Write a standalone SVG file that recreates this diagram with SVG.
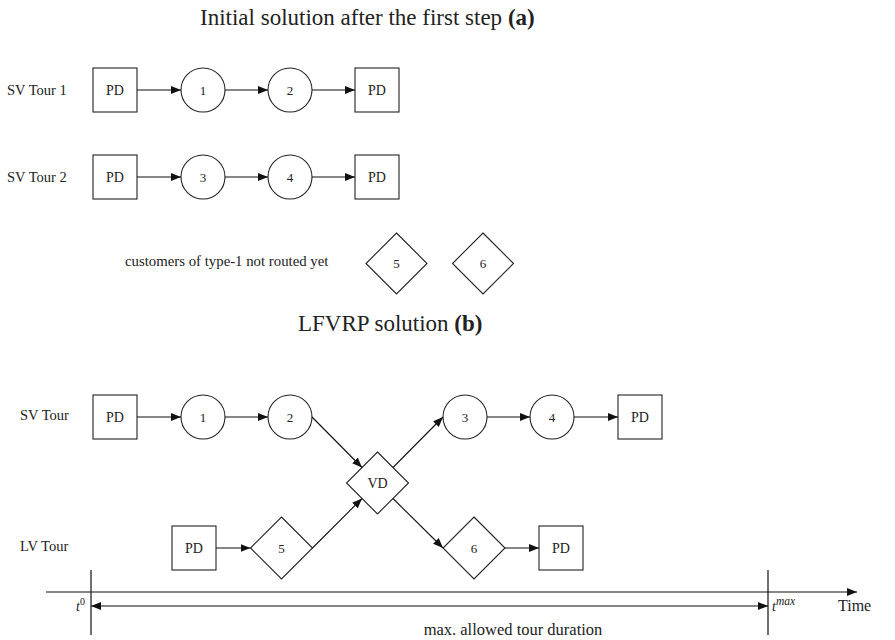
<svg xmlns="http://www.w3.org/2000/svg" width="895" height="640" viewBox="0 0 895 640">
<style>
text{font-family:"Liberation Serif","DejaVu Serif",serif;fill:#222}
.t{font-size:23px}
.l{font-size:14.5px}
.n{font-size:14px;text-anchor:middle;dominant-baseline:central}
.d{font-size:13px}
.s{fill:#fff;stroke:#222;stroke-width:1.1}
.e{stroke:#111;stroke-width:1.1;fill:none;marker-end:url(#ah)}
.a{stroke:#111;stroke-width:1.2;fill:none}
</style>
<defs>
<marker id="ah" viewBox="0 0 10 8" refX="10" refY="4" markerWidth="10" markerHeight="8" markerUnits="userSpaceOnUse" orient="auto-start-reverse">
<path d="M0,0 L10,4 L0,8 Z" fill="#111"/>
</marker>
</defs>
<rect width="895" height="640" fill="#fff"/>
<text class="t" x="200" y="25">Initial solution after the first step <tspan font-weight="bold">(a)</tspan></text>
<text class="l" x="7" y="95">SV Tour 1</text>
<text class="l" x="7" y="182">SV Tour 2</text>
<text class="l" x="125" y="266" style="font-size:14.8px">customers of type-1 not routed yet</text>
<g id="a_pd1"><rect class="s" x="93" y="68" width="44" height="44"/><text class="n" x="115" y="90">PD</text></g>
<g id="a_n1"><circle class="s" cx="203" cy="90" r="22"/><text class="n d" x="203" y="90">1</text></g>
<g id="a_n2"><circle class="s" cx="290" cy="90" r="22"/><text class="n d" x="290" y="90">2</text></g>
<g id="a_pd2"><rect class="s" x="355" y="68" width="44" height="44"/><text class="n" x="377" y="90">PD</text></g>
<g id="a_pd3"><rect class="s" x="93" y="155" width="44" height="44"/><text class="n" x="115" y="177">PD</text></g>
<g id="a_n3"><circle class="s" cx="203" cy="177" r="22"/><text class="n d" x="203" y="177">3</text></g>
<g id="a_n4"><circle class="s" cx="290" cy="177" r="22"/><text class="n d" x="290" y="177">4</text></g>
<g id="a_pd4"><rect class="s" x="355" y="155" width="44" height="44"/><text class="n" x="377" y="177">PD</text></g>
<g id="a_n5"><path class="s" d="M396.5,233 L427,263.5 L396.5,294 L366,263.5 Z"/><text class="n d" x="396.5" y="263.5">5</text></g>
<g id="a_n6"><path class="s" d="M483,233 L513.5,263.5 L483,294 L452.5,263.5 Z"/><text class="n d" x="483" y="263.5">6</text></g>

<text class="t" x="298" y="331">LFVRP solution <tspan font-weight="bold">(b)</tspan></text>
<text class="l" x="20" y="420">SV Tour</text>
<text class="l" x="20" y="551">LV Tour</text>
<g id="b_pd1"><rect class="s" x="93" y="395" width="44" height="44"/><text class="n" x="115" y="417">PD</text></g>
<g id="b_n1"><circle class="s" cx="203" cy="417" r="22"/><text class="n d" x="203" y="417">1</text></g>
<g id="b_n2"><circle class="s" cx="290" cy="417" r="22"/><text class="n d" x="290" y="417">2</text></g>
<g id="b_vd"><path class="s" d="M377.5,452 L408.5,483 L377.5,514 L346.5,483 Z"/><text class="n" x="377.5" y="483">VD</text></g>
<g id="b_n3"><circle class="s" cx="465" cy="417" r="22"/><text class="n d" x="465" y="417">3</text></g>
<g id="b_n4"><circle class="s" cx="552" cy="417" r="22"/><text class="n d" x="552" y="417">4</text></g>
<g id="b_pd2"><rect class="s" x="618" y="395" width="44" height="44"/><text class="n" x="640" y="417">PD</text></g>
<g id="b_pd3"><rect class="s" x="172" y="526" width="44" height="44"/><text class="n" x="194" y="548">PD</text></g>
<g id="b_n5"><path class="s" d="M281.5,517 L312.5,548 L281.5,579 L250.5,548 Z"/><text class="n d" x="281.5" y="548">5</text></g>
<g id="b_n6"><path class="s" d="M474,517 L505,548 L474,579 L443,548 Z"/><text class="n d" x="474" y="548">6</text></g>
<g id="b_pd4"><rect class="s" x="539" y="526" width="44" height="44"/><text class="n" x="561" y="548">PD</text></g>

<g id="connectors">
<line class="e" x1="137" y1="90" x2="181" y2="90"/>
<line class="e" x1="225" y1="90" x2="268" y2="90"/>
<line class="e" x1="312" y1="90" x2="355" y2="90"/>
<line class="e" x1="137" y1="177" x2="181" y2="177"/>
<line class="e" x1="225" y1="177" x2="268" y2="177"/>
<line class="e" x1="312" y1="177" x2="355" y2="177"/>
<line class="e" x1="137" y1="417" x2="181" y2="417"/>
<line class="e" x1="225" y1="417" x2="268" y2="417"/>
<line class="e" x1="312" y1="417" x2="362" y2="467.5"/>
<line class="e" x1="312.5" y1="548" x2="362" y2="498.5"/>
<line class="e" x1="393" y1="467.5" x2="443" y2="417"/>
<line class="e" x1="393" y1="498.5" x2="443" y2="548"/>
<line class="e" x1="487" y1="417" x2="530" y2="417"/>
<line class="e" x1="574" y1="417" x2="618" y2="417"/>
<line class="e" x1="216" y1="548" x2="250.5" y2="548"/>
<line class="e" x1="505" y1="548" x2="539" y2="548"/>
</g>

<g id="axis">
<line class="a" x1="46" y1="592" x2="857" y2="592" marker-end="url(#ah)"/>
<line class="a" x1="91" y1="570" x2="91" y2="635"/>
<line class="a" x1="768" y1="570" x2="768" y2="635"/>
<line class="a" x1="91" y1="606" x2="768" y2="606" marker-start="url(#ah)" marker-end="url(#ah)"/>
<text x="76" y="611" style="font-size:14px;font-style:italic">t<tspan dy="-6" style="font-size:10px;font-style:normal">0</tspan></text>
<text x="772" y="611" style="font-size:14px;font-style:italic">t<tspan dy="-6" style="font-size:11.5px">max</tspan></text>
<text x="838" y="611" style="font-size:16px">Time</text>
<text x="513" y="635" style="font-size:16.5px;text-anchor:middle">max. allowed tour duration</text>
</g>
</svg>
